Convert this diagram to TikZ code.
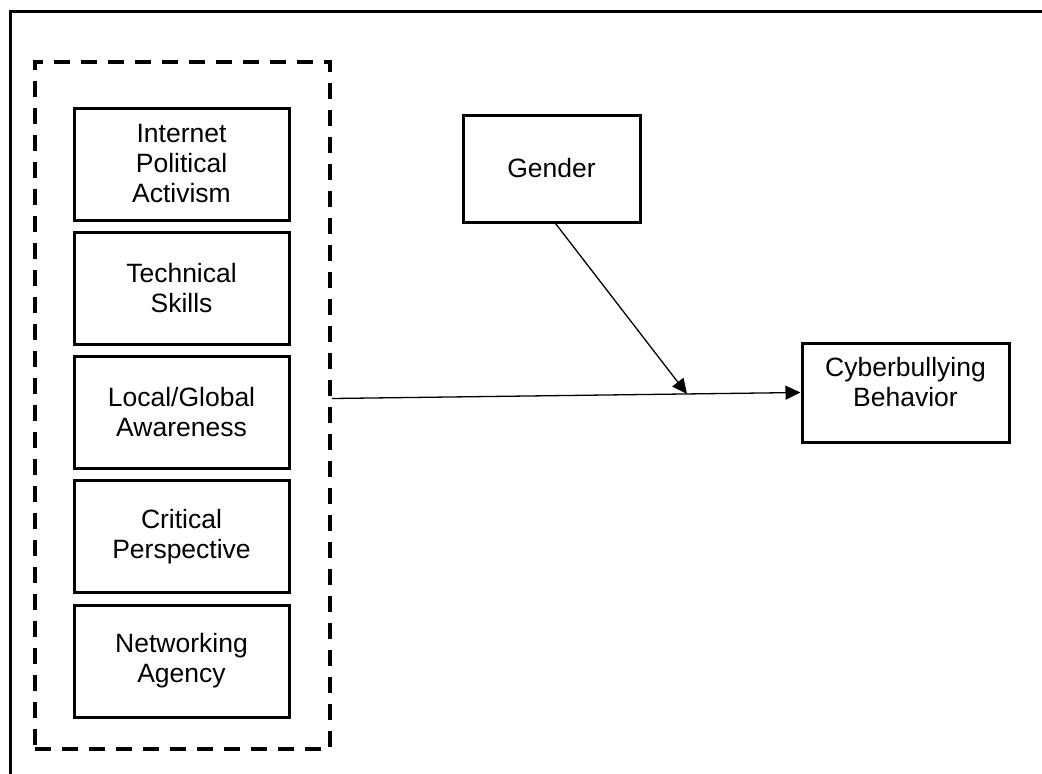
\documentclass[tikz,border=0pt]{standalone}
\usepackage{fontspec}
\setmainfont{Liberation Sans}
\usetikzlibrary{arrows.meta}

\begin{document}
\begin{tikzpicture}[x=1pt, y=-1pt,
    every node/.style={font=\fontsize{26.5}{30}\selectfont},
    var/.style={draw, line width=3pt, align=center, inner sep=0pt,
      minimum width=215pt, minimum height=112pt},
    link/.style={-{Triangle[length=15pt,width=14pt]}, line width=1.3pt}]
    \useasboundingbox (0,0) rectangle (1042,774);
    % frame (cut off at right and bottom)
    \draw[line width=3pt] (10,774) -- (10,11) -- (1042,11);
    \node[draw, dash pattern=on 16pt off 11pt, line width=4pt,
      minimum width=295pt, minimum height=687pt] (grp) at (182.5, 405.5) {};
    \node[var] (ipa) at (181.5, 164) {Internet\\Political\\Activism};
    \node[var] (ts) at (181.5, 288.5) {Technical\\Skills};
    \node[var] (lga) at (181.5, 412.5) {Local/Global\\Awareness};
    \node[var] (cp) at (181.5, 536.5) {Critical\\Perspective};
    \node[var] (na) at (181.5, 661) {Networking\\Agency};
    \node[var, minimum width=177pt, minimum height=107pt] (gen) at (551.5, 168.5) {Gender};
    \node[var, minimum width=207pt, minimum height=99pt, text depth=22pt] (cb)
      at (905.5, 392.5) {Cyberbullying\\Behavior};
    \coordinate (mod) at (687, 394);
    \draw[link] ([yshift=7pt]grp.east) -- (cb.west);
    \draw[link] ([xshift=4pt]gen.south) -- (mod);
  \end{tikzpicture}
\end{document}
